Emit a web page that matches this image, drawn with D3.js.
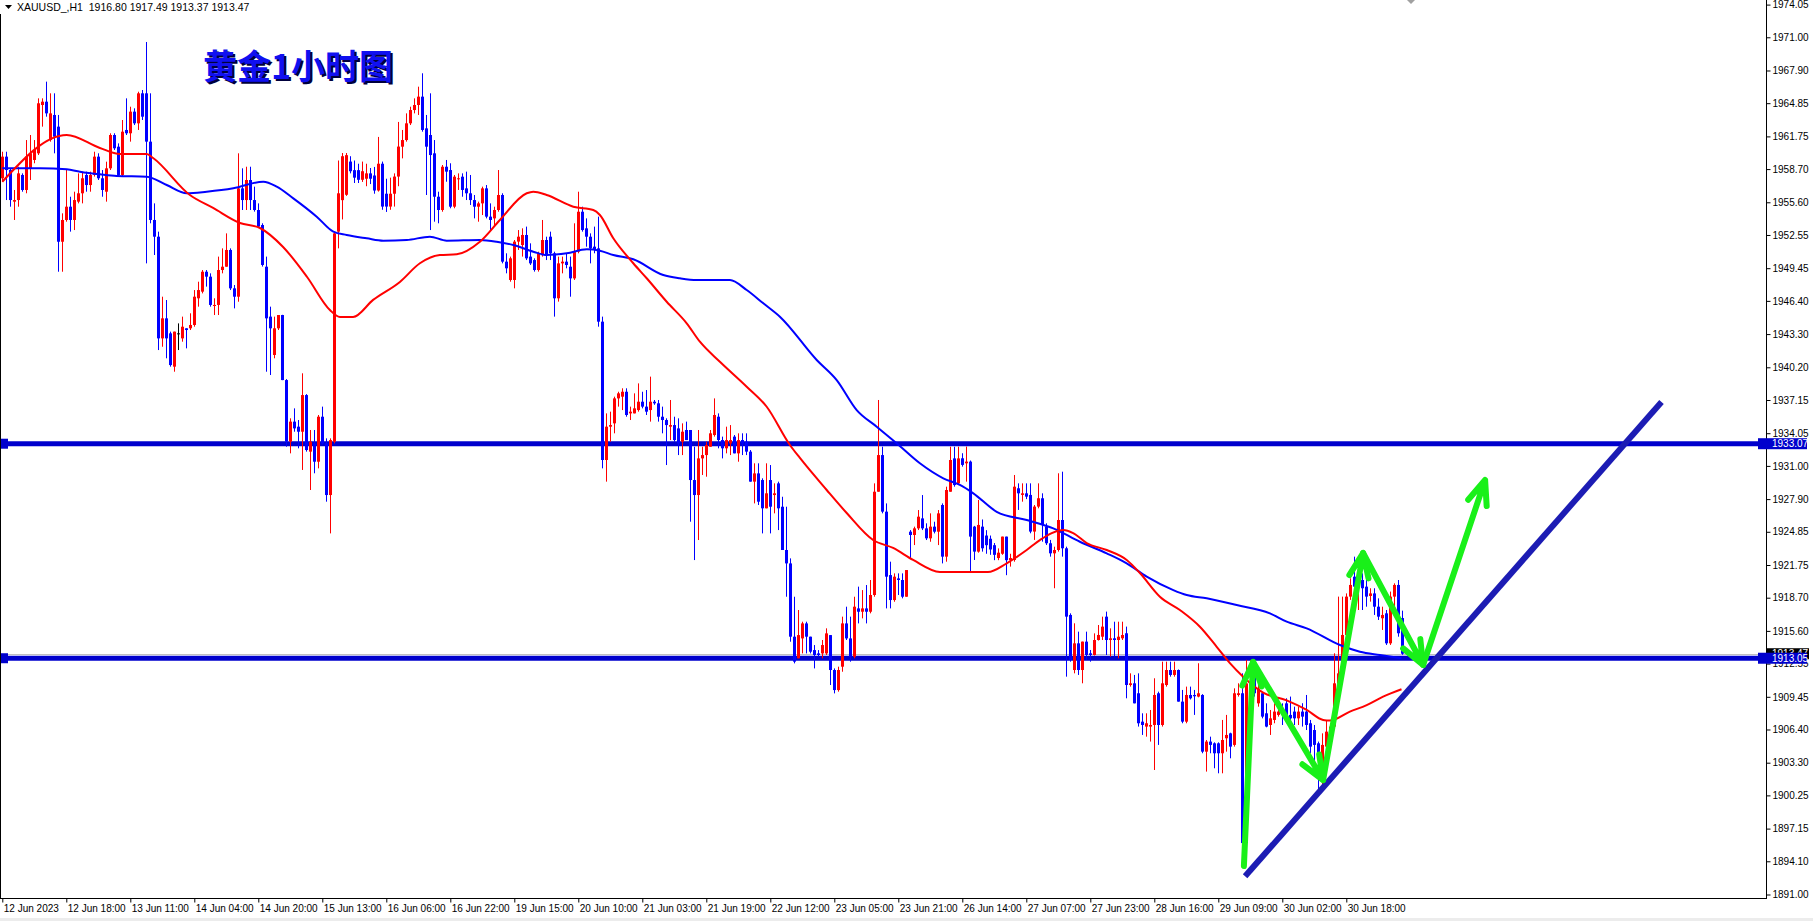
<!DOCTYPE html>
<html><head><meta charset="utf-8">
<script src="https://cdn.jsdelivr.net/npm/d3@7"></script>
<style>html,body{margin:0;padding:0;background:#fff;overflow:hidden}</style>
</head><body><svg id="c" width="1813" height="921" xmlns="http://www.w3.org/2000/svg"></svg>
<script>
// ---------- DATA ----------
const symbolHeader = "XAUUSD_,H1  1916.80 1917.49 1913.37 1913.47";
const chartTitle = "黄金1小时图";
// hourly candles: [open, high, low, close]
const candles = [
[1957.84,1960.32,1957.52,1959.86],[1959.86,1960.32,1955.81,1958.61],[1958.61,1958.77,1955.19,1955.81],[1955.66,1956.75,1953.95,1955.81],
[1955.81,1958.92,1955.19,1958.30],[1958.15,1958.30,1956.59,1956.75],[1956.75,1961.41,1956.44,1959.86],[1958.77,1961.88,1957.68,1960.17],
[1959.55,1961.41,1959.24,1960.48],[1960.17,1965.30,1960.01,1964.84],[1964.68,1965.30,1962.66,1964.99],[1964.99,1966.86,1963.59,1963.90],
[1961.41,1965.77,1961.26,1963.90],[1963.75,1965.77,1960.17,1961.72],[1962.66,1963.75,1949.12,1951.92],[1951.92,1954.57,1949.12,1953.95],
[1953.95,1958.61,1953.79,1955.19],[1955.19,1956.12,1952.86,1953.95],[1953.95,1956.59,1953.01,1955.81],[1955.66,1958.30,1955.50,1956.44],
[1956.44,1958.46,1955.50,1957.84],[1958.15,1958.46,1956.59,1957.21],[1957.21,1958.46,1956.59,1958.15],[1958.15,1960.32,1958.00,1959.86],
[1959.86,1960.17,1957.68,1957.84],[1957.84,1958.61,1956.12,1956.75],[1956.59,1959.39,1955.66,1958.77],[1958.77,1962.04,1958.61,1961.88],
[1961.88,1962.04,1960.48,1960.64],[1960.79,1961.10,1958.00,1958.15],[1958.15,1963.28,1958.00,1962.19],[1962.35,1965.30,1961.88,1962.04],
[1962.04,1964.52,1961.26,1964.06],[1964.06,1964.37,1962.81,1962.97],[1962.97,1965.92,1962.35,1965.77],[1965.77,1966.08,1963.28,1963.59],
[1965.77,1970.56,1949.90,1961.26],[1961.26,1965.77,1953.64,1953.95],[1953.95,1955.50,1950.68,1952.39],[1952.39,1952.86,1941.81,1942.90],
[1942.90,1946.79,1942.12,1944.77],[1944.77,1946.48,1941.04,1942.90],[1943.37,1943.53,1940.26,1940.41],[1940.26,1943.53,1939.79,1943.53],
[1943.37,1944.30,1941.81,1943.37],[1942.90,1944.93,1942.59,1943.99],[1943.84,1943.84,1941.97,1943.68],[1943.84,1945.24,1943.68,1944.15],
[1944.15,1947.41,1943.99,1946.79],[1946.64,1948.19,1945.86,1947.41],[1947.26,1949.28,1947.10,1949.12],[1949.12,1949.28,1947.73,1948.66],
[1948.66,1948.97,1945.86,1946.02],[1945.92,1946.64,1945.08,1946.02],[1946.02,1950.53,1945.08,1949.28],[1949.28,1951.30,1948.97,1949.59],
[1949.59,1952.70,1949.59,1951.15],[1951.15,1951.30,1947.41,1947.57],[1947.57,1947.88,1945.70,1946.79],[1946.79,1960.17,1946.32,1956.90],
[1956.90,1958.77,1954.88,1955.81],[1955.81,1958.92,1954.88,1957.68],[1957.68,1958.92,1954.88,1955.81],[1955.81,1957.06,1954.73,1954.88],
[1954.88,1955.50,1953.20,1953.33],[1953.48,1953.64,1949.60,1949.75],[1949.59,1950.53,1939.79,1944.77],[1944.93,1945.86,1939.48,1943.84],
[1941.35,1944.93,1941.04,1943.84],[1943.84,1945.08,1943.68,1945.08],[1945.08,1945.10,1939.00,1939.01],[1939.01,1939.10,1932.79,1933.26],
[1933.26,1935.44,1932.17,1935.13],[1935.13,1936.37,1934.19,1934.50],[1934.66,1935.28,1932.64,1934.19],[1934.19,1939.64,1930.62,1937.61],
[1937.61,1937.70,1932.33,1932.48],[1932.33,1934.35,1928.75,1933.26],[1933.10,1934.35,1930.31,1931.39],[1931.39,1935.75,1930.77,1935.59],
[1935.59,1936.53,1933.00,1933.10],[1933.10,1933.57,1927.66,1928.28],[1928.28,1933.57,1924.70,1933.41],[1933.26,1952.80,1933.10,1952.70],
[1952.86,1959.50,1951.30,1956.44],[1955.80,1960.20,1954.00,1959.90],[1956.30,1960.20,1956.20,1960.00],[1959.40,1959.90,1958.30,1958.50],
[1958.60,1959.50,1957.40,1957.90],[1958.60,1959.20,1957.40,1957.70],[1957.70,1959.40,1957.50,1958.50],[1957.80,1959.20,1957.10,1958.30],
[1958.30,1958.80,1957.30,1957.80],[1958.10,1958.90,1956.40,1956.70],[1956.70,1961.70,1956.60,1959.20],[1959.20,1959.40,1954.90,1955.20],
[1956.40,1957.80,1954.70,1955.20],[1955.20,1957.90,1954.90,1956.40],[1956.40,1958.30,1955.20,1958.00],[1958.00,1963.10,1957.10,1960.80],
[1960.79,1962.35,1959.70,1961.41],[1961.41,1963.90,1961.26,1962.97],[1962.97,1964.52,1962.81,1964.21],[1964.21,1965.30,1963.90,1964.68],
[1964.68,1966.39,1963.75,1965.46],[1965.46,1967.64,1962.19,1962.35],[1962.50,1963.75,1956.28,1960.79],[1961.88,1965.77,1953.01,1960.01],
[1960.17,1961.41,1953.79,1956.12],[1956.12,1956.59,1953.64,1954.88],[1954.88,1959.08,1954.72,1958.92],[1958.92,1959.55,1957.52,1958.46],
[1958.61,1959.24,1955.04,1955.19],[1955.19,1958.15,1955.04,1957.99],[1957.80,1958.30,1956.75,1957.84],[1957.99,1958.30,1956.12,1956.75],
[1956.90,1958.46,1955.81,1956.44],[1956.44,1958.15,1955.35,1955.81],[1955.81,1956.28,1954.10,1955.19],[1955.19,1955.66,1953.79,1955.50],
[1955.50,1957.06,1954.41,1956.90],[1956.90,1957.21,1954.10,1954.26],[1954.26,1955.50,1953.01,1953.95],[1954.10,1955.19,1953.33,1954.88],
[1954.88,1958.61,1954.72,1956.28],[1956.28,1956.44,1949.90,1950.06],[1950.06,1950.84,1948.97,1949.44],[1948.35,1950.53,1948.19,1950.37],
[1948.35,1952.08,1947.57,1951.93],[1951.93,1953.01,1951.15,1952.39],[1951.61,1953.17,1950.53,1952.55],[1952.55,1953.33,1950.21,1950.37],
[1950.53,1951.77,1949.75,1949.90],[1950.21,1950.37,1949.13,1949.28],[1949.28,1950.99,1949.13,1950.84],[1950.68,1953.95,1950.53,1952.08],
[1952.08,1952.39,1950.21,1950.68],[1952.39,1952.86,1950.21,1950.84],[1950.84,1950.99,1944.93,1946.64],[1946.64,1950.53,1946.33,1949.90],
[1949.90,1950.53,1948.97,1950.06],[1950.06,1950.84,1949.44,1949.75],[1949.59,1950.53,1946.79,1948.50],[1948.50,1953.64,1948.35,1950.99],
[1950.99,1956.59,1950.84,1954.72],[1954.72,1955.19,1952.86,1953.01],[1953.17,1954.10,1951.46,1952.39],[1952.39,1952.70,1949.90,1951.30],
[1951.46,1953.33,1950.84,1951.15],[1951.30,1954.26,1943.99,1944.46],[1944.46,1944.93,1930.77,1931.55],[1931.55,1935.90,1929.53,1934.66],
[1934.66,1936.06,1933.26,1934.81],[1934.97,1937.46,1934.04,1937.30],[1937.30,1937.92,1936.53,1937.77],[1937.46,1938.24,1936.21,1937.92],
[1937.92,1938.24,1935.59,1935.75],[1935.90,1936.53,1935.28,1936.06],[1935.90,1937.77,1935.90,1936.37],[1936.21,1938.70,1936.06,1936.99],
[1936.99,1937.92,1936.37,1936.53],[1936.53,1938.08,1935.75,1936.06],[1936.21,1939.33,1935.13,1936.99],[1936.99,1937.15,1936.70,1936.84],
[1936.84,1937.15,1935.13,1935.59],[1935.59,1936.53,1934.04,1935.28],[1935.28,1935.44,1931.08,1934.81],[1934.66,1937.15,1933.41,1934.81],
[1934.81,1935.59,1933.26,1933.41],[1934.50,1935.44,1932.01,1933.10],[1933.26,1934.97,1932.01,1934.19],[1934.35,1935.13,1933.41,1933.41],
[1934.35,1934.35,1925.79,1929.68],[1929.68,1932.79,1922.21,1928.28],[1928.28,1934.35,1924.08,1931.70],[1931.70,1932.79,1930.15,1932.01],
[1932.01,1933.26,1929.99,1932.95],[1932.79,1934.35,1932.79,1934.04],[1933.88,1937.30,1933.73,1935.75],[1935.59,1935.90,1932.64,1933.41],
[1933.41,1933.73,1931.70,1932.64],[1932.64,1934.66,1932.17,1933.41],[1933.10,1934.81,1932.01,1933.41],[1933.73,1933.88,1932.17,1932.17],
[1932.17,1934.04,1931.39,1933.41],[1933.41,1934.04,1932.01,1933.10],[1933.26,1934.04,1932.01,1932.33],[1932.33,1932.48,1929.53,1929.53],
[1929.53,1931.24,1927.50,1930.30],[1930.30,1931.24,1927.35,1927.66],[1929.68,1929.84,1924.70,1927.04],[1927.04,1931.24,1927.04,1928.44],
[1929.68,1931.08,1924.70,1927.19],[1928.28,1929.37,1926.57,1928.44],[1929.37,1929.53,1925.01,1927.04],[1927.19,1928.12,1923.15,1923.15],
[1923.15,1927.19,1918.79,1921.90],[1921.90,1922.37,1914.59,1915.06],[1915.06,1918.79,1912.57,1912.73],[1913.04,1917.55,1913.04,1915.21],
[1914.90,1916.46,1913.50,1916.30],[1916.30,1916.46,1913.50,1915.06],[1915.06,1915.06,1913.50,1913.66],[1913.81,1914.28,1912.10,1913.35],
[1913.50,1913.81,1913.19,1913.35],[1913.50,1914.75,1913.04,1914.28],[1913.50,1915.84,1913.35,1915.37],[1915.21,1915.21,1910.55,1911.95],
[1911.95,1912.10,1909.77,1910.08],[1910.08,1912.26,1909.93,1911.95],[1912.26,1916.93,1911.79,1916.30],[1916.30,1917.86,1914.75,1914.90],
[1914.90,1916.93,1912.73,1913.19],[1913.19,1918.79,1913.04,1917.86],[1917.70,1919.73,1916.30,1917.39],[1917.39,1919.41,1916.77,1917.70],
[1917.70,1919.88,1916.30,1917.39],[1917.39,1920.35,1917.24,1918.95],[1918.95,1929.37,1918.79,1928.59],[1928.59,1937.15,1928.59,1932.01],
[1932.01,1932.79,1926.57,1926.73],[1926.73,1927.50,1917.70,1920.66],[1920.81,1922.06,1917.70,1918.48],[1918.48,1920.97,1918.32,1920.66],
[1920.50,1920.97,1918.95,1920.35],[1920.35,1920.97,1918.64,1918.79],[1918.79,1921.28,1918.79,1921.28],[1924.86,1925.01,1922.37,1924.55],
[1924.55,1925.33,1923.61,1925.17],[1925.17,1926.88,1925.01,1926.26],[1926.10,1928.28,1925.01,1925.17],[1925.17,1925.64,1924.08,1924.24],
[1924.24,1926.57,1923.92,1925.33],[1925.33,1925.79,1924.70,1924.86],[1924.86,1926.88,1923.61,1926.57],[1927.35,1927.50,1921.90,1922.53],
[1922.53,1929.06,1922.06,1928.75],[1928.59,1932.79,1928.59,1931.55],[1931.70,1932.79,1929.06,1929.21],[1929.37,1932.79,1929.21,1931.70],
[1931.71,1932.18,1930.93,1931.09],[1931.24,1932.80,1929.53,1931.40],[1931.40,1931.50,1921.13,1924.40],[1925.33,1925.40,1922.22,1923.00],
[1923.00,1927.82,1922.90,1925.49],[1925.33,1926.00,1923.00,1923.31],[1924.50,1925.00,1922.80,1923.60],[1924.20,1924.50,1922.70,1923.20],
[1923.60,1923.80,1922.20,1922.70],[1922.40,1923.30,1922.20,1922.90],[1922.80,1924.40,1922.70,1924.40],[1924.40,1924.40,1920.80,1922.20],
[1922.20,1922.80,1921.60,1922.40],[1922.22,1930.15,1922.06,1929.06],[1928.91,1929.37,1926.89,1928.44],[1928.29,1929.37,1927.66,1928.44],
[1928.44,1929.37,1927.90,1928.13],[1928.29,1929.37,1924.71,1924.87],[1924.87,1927.35,1924.09,1927.20],[1927.20,1929.37,1927.04,1927.98],
[1927.98,1928.44,1923.93,1925.49],[1925.33,1925.64,1923.62,1923.78],[1923.78,1924.09,1922.53,1922.84],[1922.84,1923.46,1919.58,1923.15],
[1923.15,1930.31,1923.00,1925.95],[1925.95,1930.46,1922.53,1923.31],[1923.31,1923.46,1911.33,1916.93],[1917.09,1917.24,1912.73,1912.89],
[1911.95,1916.31,1911.64,1914.44],[1914.44,1915.53,1911.49,1911.95],[1911.95,1914.60,1910.71,1914.60],[1914.60,1915.53,1912.89,1913.35],
[1913.51,1913.82,1912.73,1913.35],[1913.35,1915.37,1913.30,1914.75],[1914.75,1916.15,1914.70,1915.22],[1915.06,1916.93,1914.75,1916.00],
[1916.93,1917.40,1913.35,1914.75],[1914.75,1915.84,1913.20,1914.91],[1914.91,1916.46,1913.20,1914.75],[1914.75,1916.46,1913.04,1915.06],
[1914.91,1916.46,1914.75,1915.22],[1915.38,1916.00,1909.31,1910.55],[1910.55,1911.64,1910.40,1910.71],[1910.71,1911.49,1908.84,1908.84],
[1909.78,1911.64,1906.67,1906.98],[1907.13,1907.91,1905.89,1906.82],[1906.67,1907.91,1905.73,1906.98],[1906.67,1908.22,1905.27,1906.82],
[1906.82,1911.18,1902.62,1909.62],[1909.78,1909.93,1904.96,1906.82],[1906.82,1912.73,1906.67,1910.71],[1910.55,1912.73,1910.40,1911.95],
[1911.95,1912.73,1911.33,1911.49],[1911.49,1912.73,1911.33,1911.95],[1911.95,1912.00,1909.00,1909.00],[1909.00,1910.09,1906.98,1907.13],
[1907.13,1910.40,1906.98,1909.62],[1909.62,1910.40,1909.20,1909.31],[1909.62,1910.09,1907.76,1909.50],[1909.47,1912.58,1909.40,1909.78],
[1909.62,1909.70,1904.18,1904.33],[1904.33,1905.42,1902.47,1905.27],[1905.27,1905.73,1904.18,1904.96],[1905.11,1905.20,1902.78,1904.18],
[1905.11,1905.20,1902.31,1904.18],[1904.18,1907.29,1902.31,1905.42],[1905.58,1907.76,1904.33,1905.89],[1906.04,1906.10,1903.71,1904.80],
[1904.96,1910.24,1904.80,1909.78],[1909.62,1910.71,1909.47,1909.78],[1909.78,1911.64,1894.00,1895.80],[1895.80,1912.90,1895.00,1910.70],
[1909.78,1912.89,1909.62,1910.87],[1911.64,1911.95,1909.47,1909.78],[1908.84,1911.02,1908.53,1910.24],[1909.78,1909.80,1907.44,1907.60],
[1907.91,1908.84,1906.60,1906.67],[1906.82,1908.22,1905.89,1907.44],[1907.29,1908.84,1906.98,1908.07],[1907.76,1908.53,1907.60,1908.07],
[1908.10,1908.84,1906.82,1908.00],[1908.84,1909.31,1907.13,1907.29],[1907.76,1909.47,1906.67,1907.44],[1908.07,1908.53,1906.82,1907.44],
[1907.44,1908.53,1906.82,1908.07],[1908.07,1908.85,1906.67,1907.60],[1908.07,1909.62,1906.35,1906.82],[1906.98,1907.29,1904.18,1904.80],
[1906.35,1906.82,1902.62,1904.96],[1905.11,1905.27,1900.44,1904.18],[1901.69,1906.04,1901.07,1904.96],[1904.80,1907.29,1904.33,1906.20],
[1905.11,1906.98,1904.80,1906.67],[1906.67,1913.51,1906.35,1910.71],[1910.71,1918.80,1910.55,1911.64],[1911.64,1918.80,1911.49,1915.22],
[1915.22,1919.10,1915.06,1918.80],[1918.80,1920.51,1918.50,1919.89],[1920.66,1922.53,1919.58,1919.73],[1919.73,1922.22,1917.55,1920.51],
[1920.35,1920.97,1917.55,1919.58],[1919.73,1920.82,1917.86,1918.80],[1918.86,1919.58,1918.33,1919.10],[1919.10,1919.58,1917.09,1917.86],
[1917.86,1918.64,1916.62,1916.93],[1916.78,1917.86,1915.69,1917.09],[1917.24,1917.55,1914.29,1914.44],[1914.44,1919.27,1914.29,1918.80],
[1918.80,1920.04,1916.93,1919.89],[1919.89,1920.35,1915.06,1915.38],[1916.80,1917.49,1913.37,1913.47]
];
// moving averages: [bar index, price]
const maFast = [[0,1957.52],[16.1,1961.88],[24.4,1960.67],[29.4,1960.11],[36.1,1960.11],[37.7,1959.73],[46.9,1956.28],[52.7,1955.07],[59.4,1953.67],[64.4,1953.20],[70.2,1951.43],[76.2,1948.63],[81.9,1945.55],[84.4,1944.9],[87.7,1944.9],[92.7,1946.49],[99.4,1948.17],[104.4,1949.91],[109.4,1950.68],[113.6,1950.75],[119.4,1951.92],[124.4,1953.95],[131.1,1956.44],[132.75,1956.59],[136.1,1956.28],[142.75,1955.19],[147.75,1954.88],[149.4,1954.41],[152.75,1952.24],[157.75,1949.91],[161.1,1948.51],[166.1,1946.32],[171.1,1944.31],[174.4,1942.59],[179.4,1940.72],[186.1,1938.39],[191.1,1936.52],[196.9,1932.95],[199.4,1931.74],[206.1,1928.75],[211.1,1926.60],[217.7,1924.08],[222.7,1923.34],[227.7,1922.22],[234.4,1921.10],[246.4,1921.10],[251.1,1921.91],[256.1,1923.15],[259.4,1924.08],[265.2,1925.01],[267.7,1924.73],[271.1,1923.80],[276.1,1923.15],[281.1,1922.22],[284.4,1921.00],[289.4,1918.79],[294.4,1917.55],[299.4,1915.99],[303.6,1914.12],[306.9,1912.6],[310.2,1911.33],[315.2,1909.85],[321.1,1909.12],[326.1,1908.22],[330.2,1907.29],[331.9,1907.23],[336.9,1908.06],[341.1,1908.68],[345.2,1909.46],[349.8,1910.15]];
const maSlow = [[0,1958.77],[9.4,1958.77],[16.1,1958.68],[19.4,1958.46],[24.4,1958.21],[28.6,1958.05],[36.1,1957.99],[41.1,1957.21],[46.1,1956.44],[51.1,1956.59],[57.75,1956.91],[65.25,1957.52],[68.6,1957.06],[72.75,1955.97],[78.6,1954.26],[82.75,1952.86],[86.1,1952.55],[91.1,1952.24],[95.25,1952.02],[101.1,1952.08],[106.9,1952.39],[111.1,1952.02],[119.4,1952.08],[123.6,1951.92],[127.75,1951.61],[132.75,1950.99],[136.1,1950.68],[141.1,1950.84],[146.1,1951.21],[149.4,1951.08],[152.75,1950.68],[157.75,1950.28],[165.25,1948.81],[169.4,1948.51],[173.6,1948.35],[181.9,1948.35],[186.1,1947.41],[190.25,1946.17],[194.4,1944.92],[203.6,1940.88],[208.6,1939.01],[213.6,1936.21],[218.6,1934.66],[223.6,1933.11],[229.4,1931.24],[235.25,1929.84],[239.4,1929.22],[242.75,1928.44],[248.6,1926.72],[256.1,1925.95],[262.75,1925.17],[269.4,1923.92],[276.1,1922.84],[281.1,1921.91],[286.1,1920.66],[292.75,1919.41],[296.1,1918.95],[301.1,1918.64],[308.6,1918.01],[316.9,1917.24],[321.1,1916.46],[326.1,1915.84],[334.4,1914.28],[339.4,1913.66],[344.4,1913.35],[349.8,1913.05]];
const levelPrices = [1933.07, 1913.05];
const lastPrice = 1913.47;
const trendLine = [[310.7,1892.7],[414.8,1936.96]];
const arrowPath = [[310.4,1893.66],[312.7,1912.70],[330.2,1901.68],[340.2,1922.87],[355.2,1912.42],[370.7,1929.68]];
const priceTicks = ["1974.05","1971.00","1967.90","1964.85","1961.75","1958.70","1955.60","1952.55","1949.45","1946.40","1943.30","1940.20","1937.15","1934.05","1931.00","1927.90","1924.85","1921.75","1918.70","1915.60","1912.55","1909.45","1906.40","1903.30","1900.25","1897.15","1894.10","1891.00"];
const timeLabels = ["12 Jun 2023","12 Jun 18:00","13 Jun 11:00","14 Jun 04:00","14 Jun 20:00","15 Jun 13:00","16 Jun 06:00","16 Jun 22:00","19 Jun 15:00","20 Jun 10:00","21 Jun 03:00","21 Jun 19:00","22 Jun 12:00","23 Jun 05:00","23 Jun 21:00","26 Jun 14:00","27 Jun 07:00","27 Jun 23:00","28 Jun 16:00","29 Jun 09:00","30 Jun 02:00","30 Jun 18:00"];
const timeLabelBars = [0,16,32,48,64,80,96,112,128,144,160,176,192,208,224,240,256,272,288,304,320,336];

// ---------- LAYOUT ----------
const svg = d3.select("#c");
const axisX = 1766, axisY = 898;
const x = d3.scaleLinear().domain([0, 441]).range([2.3, 2.3 + 4 * 441]);
const y = d3.scaleLinear().domain([1974.05, 1891.00]).range([4.6, 894.5]);
const FONT = "'Liberation Sans', Arial, sans-serif";
const UP = "#ff0000", DOWN = "#0000ff";

svg.append("rect").attr("width", 1813).attr("height", 921).attr("fill", "#fff");
const plot = svg.append("g");
plot.append("clipPath").attr("id", "pc").append("rect").attr("x", 0).attr("y", 0).attr("width", axisX).attr("height", axisY);
const g = plot.append("g").attr("clip-path", "url(#pc)");

// current price gray line
g.append("line").attr("x1", 0).attr("x2", axisX).attr("y1", Math.round(y(lastPrice)) + 0.5).attr("y2", Math.round(y(lastPrice)) + 0.5)
 .attr("stroke", "#c0c0c0").attr("stroke-width", 1);

// horizontal levels
levelPrices.forEach(p => {
  g.append("line").attr("x1", 0).attr("x2", axisX).attr("y1", y(p)).attr("y2", y(p))
   .attr("stroke", "#0000cd").attr("stroke-width", 5);
  g.append("rect").attr("x", 0).attr("y", y(p) - 5).attr("width", 8).attr("height", 10).attr("fill", "#0000cd");
});

// candles
const cg = g.append("g");
candles.forEach((c, i) => {
  const [o, h, l, cl] = c;
  const col = cl > o ? UP : (cl < o ? DOWN : "#000");
  const cx = Math.round(x(i));
  cg.append("line").attr("x1", cx + 0.5).attr("x2", cx + 0.5).attr("y1", y(h)).attr("y2", y(l))
    .attr("stroke", col).attr("stroke-width", 1);
  const top = y(Math.max(o, cl)), bot = y(Math.min(o, cl));
  cg.append("rect").attr("x", cx - 1).attr("width", 3).attr("y", top).attr("height", Math.max(1, bot - top)).attr("fill", col);
});

// moving averages
const line = d3.line().x(d => x(d[0])).y(d => y(d[1])).curve(d3.curveMonotoneX);
g.append("path").attr("d", line(maSlow)).attr("fill", "none").attr("stroke", "#0000ff").attr("stroke-width", 2);
g.append("path").attr("d", line(maFast)).attr("fill", "none").attr("stroke", "#ff0000").attr("stroke-width", 2);

// trend line
g.append("line").attr("x1", x(trendLine[0][0])).attr("y1", y(trendLine[0][1]))
 .attr("x2", x(trendLine[1][0])).attr("y2", y(trendLine[1][1]))
 .attr("stroke", "#1c1cb4").attr("stroke-width", 6).attr("stroke-linecap", "butt");

// green arrows
const GREEN = "#19f019";
for (let k = 0; k < arrowPath.length - 1; k++) {
  const x1 = x(arrowPath[k][0]), y1 = y(arrowPath[k][1]);
  const x2 = x(arrowPath[k+1][0]), y2 = y(arrowPath[k+1][1]);
  const ang = Math.atan2(y1 - y2, x1 - x2);
  const L = 26, a = 22 * Math.PI / 180;
  const w1 = [x2 + L * Math.cos(ang + a), y2 + L * Math.sin(ang + a)];
  const w2 = [x2 + L * Math.cos(ang - a), y2 + L * Math.sin(ang - a)];
  const d = `M${x1},${y1}L${x2},${y2}M${w1[0]},${w1[1]}L${x2},${y2}L${w2[0]},${w2[1]}`;
  g.append("path").attr("d", d).attr("fill", "none").attr("stroke", GREEN).attr("stroke-width", 6)
   .attr("stroke-linecap", "round").attr("stroke-linejoin", "round");
}

// title
const tg = svg.append("g");
tg.append("text").attr("x", 205).attr("y", 81).text(chartTitle)
  .attr("font-family", "'Noto Sans CJK SC', sans-serif").attr("font-weight", 700).attr("font-size", 34)
  .attr("fill", "#00003c");
tg.append("text").attr("x", 203).attr("y", 79).text(chartTitle)
  .attr("font-family", "'Noto Sans CJK SC', sans-serif").attr("font-weight", 700).attr("font-size", 34)
  .attr("fill", "#1010f0");

// header
svg.append("path").attr("d", "M5,5L12,5L8.5,9Z").attr("fill", "#000");
svg.append("text").attr("x", 17).attr("y", 11).text(symbolHeader).attr("font-family", FONT).attr("font-size", 10.5)
  .attr("fill", "#000").attr("xml:space", "preserve").style("white-space", "pre");

// chart shift marker
svg.append("path").attr("d", "M1407,0L1415,0L1411,4Z").attr("fill", "#a0a0a0");

// frame
svg.append("line").attr("x1", 0.5).attr("x2", 0.5).attr("y1", 14).attr("y2", axisY).attr("stroke", "#000");
svg.append("line").attr("x1", axisX + 0.5).attr("x2", axisX + 0.5).attr("y1", 0).attr("y2", axisY + 1).attr("stroke", "#000");
svg.append("line").attr("x1", 0).attr("x2", axisX + 1).attr("y1", axisY + 0.5).attr("y2", axisY + 0.5).attr("stroke", "#000");

// price axis
const yAxis = d3.axisRight(y).tickValues(priceTicks.map(Number)).tickFormat((d, i) => priceTicks[i]).tickSize(4).tickPadding(2);
const ya = svg.append("g").attr("transform", `translate(${axisX + 0.5},0)`).call(yAxis);
ya.select(".domain").remove();
ya.selectAll("text").attr("font-family", FONT).attr("font-size", 10).attr("fill", "#000");
ya.selectAll("line").attr("stroke", "#000");

// time axis
const xAxis = d3.axisBottom(x).tickValues(timeLabelBars).tickFormat((d, i) => timeLabels[i]).tickSize(4).tickPadding(2);
const xa = svg.append("g").attr("transform", `translate(0,${axisY + 0.5})`).call(xAxis);
xa.select(".domain").remove();
xa.selectAll("text").attr("font-family", FONT).attr("font-size", 10).attr("fill", "#000").attr("text-anchor", "start").attr("dx", 1);
xa.selectAll("line").attr("stroke", "#000");

// price tags (drawn over the axis labels, as in the terminal)
const tag = (p, fill, xs, w) => {
  svg.append("rect").attr("x", xs).attr("y", y(p) - 5.5).attr("width", w).attr("height", 11).attr("fill", fill);
  svg.append("text").attr("x", 1772).attr("y", y(p)).attr("dy", "0.35em").text(p.toFixed(2))
    .attr("font-family", FONT).attr("font-size", 10).attr("fill", "#fff");
};
tag(lastPrice, "#000", axisX + 1, 42);
levelPrices.forEach(p => tag(p, "#0000cd", 1758, 49));

svg.append("rect").attr("x", 0).attr("y", 918).attr("width", 1813).attr("height", 3).attr("fill", "#ececec");
</script>
</body></html>
